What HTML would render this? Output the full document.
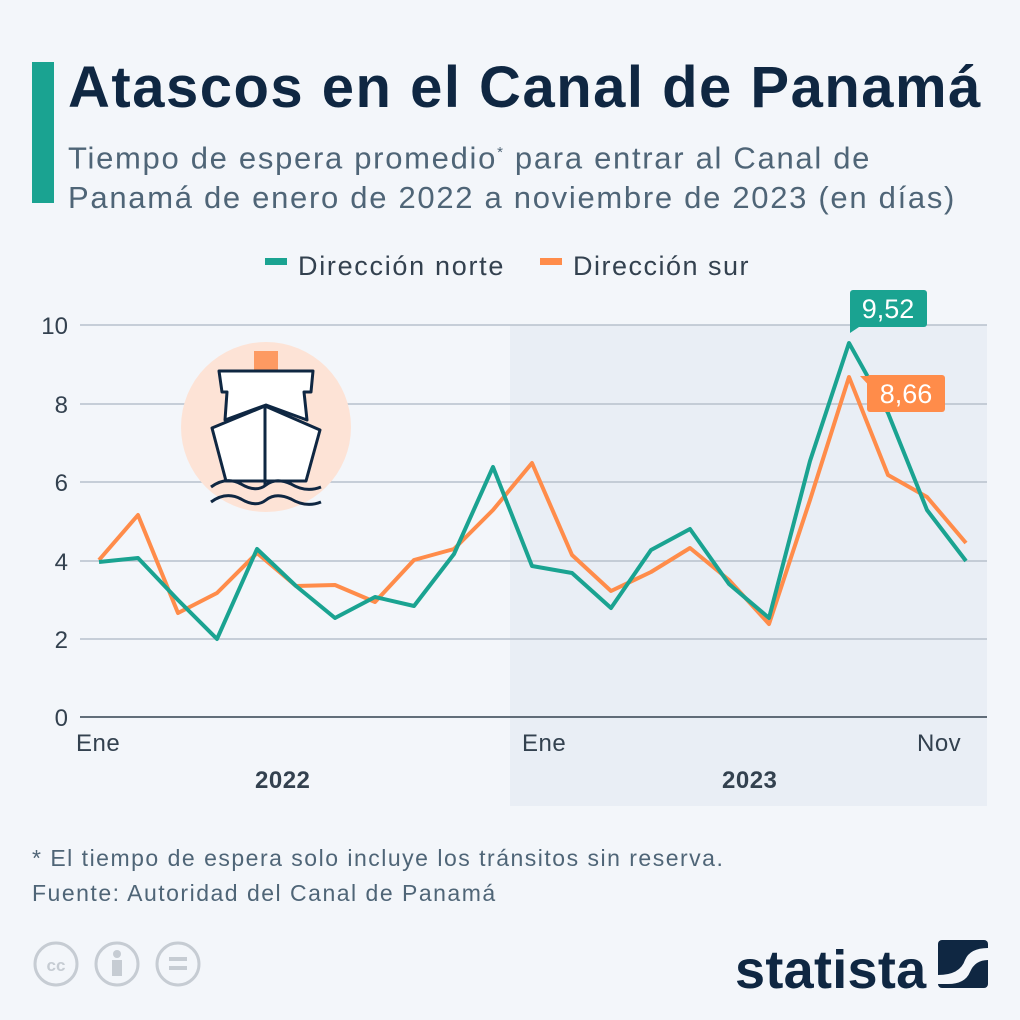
<!DOCTYPE html><html><head><meta charset="utf-8"><style>
body{margin:0;width:1020px;height:1020px;background:#f3f6fa;font-family:"Liberation Sans",sans-serif;overflow:hidden;position:relative}
.t{position:absolute;white-space:nowrap}
</style></head><body>
<div style="position:absolute;left:32px;top:62px;width:22px;height:141px;background:#1aa391"></div>
<div class="t" style="left:68px;top:54px;font-size:58px;font-weight:bold;color:#0f2742;letter-spacing:1.5px">Atascos en el Canal de Panamá</div>
<div class="t" style="left:68px;top:133px;font-size:31px;color:#4f6577;line-height:40px;letter-spacing:1.7px">Tiempo de espera promedio<sup style="font-size:15px">*</sup> para entrar al Canal de<br>Panamá de enero de 2022 a noviembre de 2023 (en días)</div>
<svg width="1020" height="1020" style="position:absolute;left:0;top:0" font-family="Liberation Sans, sans-serif">
<rect x="510" y="325" width="477" height="481" fill="#e9eef5"/>
<g stroke="#b7c0cc" stroke-width="1.5">
<line x1="80" y1="325" x2="987" y2="325"/><line x1="80" y1="404" x2="987" y2="404"/><line x1="80" y1="482" x2="987" y2="482"/><line x1="80" y1="561" x2="987" y2="561"/><line x1="80" y1="639" x2="987" y2="639"/></g>
<line x1="80" y1="717" x2="987" y2="717" stroke="#33414f" stroke-width="1.5"/>
<g font-size="24" fill="#33414f" text-anchor="end"><text x="68" y="334">10</text><text x="68" y="413">8</text><text x="68" y="491">6</text><text x="68" y="570">4</text><text x="68" y="648">2</text><text x="68" y="726">0</text></g>
<g font-size="24" fill="#33414f" letter-spacing="0.5"><text x="76" y="751">Ene</text><text x="522" y="751">Ene</text><text x="917" y="751">Nov</text>
<text x="255" y="788" font-weight="bold">2022</text><text x="722" y="788" font-weight="bold">2023</text></g>
<rect x="265" y="258" width="22" height="7" fill="#1aa391"/><text x="298" y="275" font-size="27" fill="#33414f" letter-spacing="1.7">Dirección norte</text>
<rect x="540" y="258" width="22" height="7" fill="#ff8c4a"/><text x="573" y="275" font-size="27" fill="#33414f" letter-spacing="1.5">Dirección sur</text>
<circle cx="266" cy="427" r="85" fill="#fde3d6"/>
<rect x="254" y="351" width="24" height="20" fill="#fd9a62"/>
<path d="M219 371 H313 L311 392 H304 L307 420 L266 405 L225 420 L227 392 H222 Z" fill="#fff" stroke="#0f2742" stroke-width="3" stroke-linejoin="round"/>
<path d="M212 428 L265 406 L320 430 L306 481 H226 Z" fill="#fff" stroke="#0f2742" stroke-width="3" stroke-linejoin="round"/>
<line x1="265" y1="406" x2="265" y2="485" stroke="#0f2742" stroke-width="3"/>
<path d="M211 487 Q226 476 241 484 Q256 493 266 485 Q276 477 291 484 Q306 493 321 487 M211 502 Q226 491 241 499 Q256 508 266 500 Q276 492 291 499 Q306 508 321 502" fill="none" stroke="#0f2742" stroke-width="3"/>
<polyline fill="none" stroke="#ff8c4a" stroke-width="4" stroke-linejoin="round" points="99,560 138,515 178,613 217,593 257,553 296,586 335,585 375,602 414,560 454,549 493,510 532,463 572,555 611,591 651,572 690,548 729,580 769,624 810,500 849,377 888,475 927,497 966,543"/>
<polyline fill="none" stroke="#1aa391" stroke-width="4" stroke-linejoin="round" points="99,562 138,558 178,600 217,639 257,549 296,586 335,618 375,597 414,606 454,554 493,467 532,566 572,573 611,608 651,550 690,529 729,584 769,618 810,461 849,343 888,413 927,510 966,561"/>
<rect x="850" y="290" width="77" height="37" rx="3" fill="#1aa391"/><path d="M850 320 V333 L862 325 Z" fill="#1aa391"/>
<text x="888" y="318" font-size="27" fill="#fff" text-anchor="middle">9,52</text>
<rect x="867" y="375" width="78" height="37" rx="3" fill="#ff8c4a"/><path d="M860 376 L875 376 L875 392 Z" fill="#ff8c4a"/>
<text x="906" y="403" font-size="27" fill="#fff" text-anchor="middle">8,66</text>
<g fill="none" stroke="#c6ccd3" stroke-width="3"><circle cx="56" cy="964" r="21"/><circle cx="117" cy="964" r="21"/><circle cx="178" cy="964" r="21"/></g>
<text x="56" y="971" font-size="17" font-weight="bold" fill="#c6ccd3" text-anchor="middle">cc</text>
<circle cx="117" cy="954" r="4" fill="#c6ccd3"/><rect x="112" y="960" width="10" height="16" fill="#c6ccd3"/>
<rect x="169" y="957" width="18" height="4" fill="#c6ccd3"/><rect x="169" y="966" width="18" height="4" fill="#c6ccd3"/>
<text x="735" y="988" font-size="54" font-weight="bold" fill="#0f2742" letter-spacing="0.3">statista</text>
<rect x="938" y="940" width="50" height="48" rx="4" fill="#0f2742"/>
<path d="M938 975 Q960 975 965 960 Q970 948 988 948 V960 Q975 960 970 972 Q965 984 948 984 H938 Z" fill="#f3f6fa"/>
</svg>
<div class="t" style="left:32px;top:845px;font-size:23px;color:#4f6577;letter-spacing:1.5px">* El tiempo de espera solo incluye los tránsitos sin reserva.</div>
<div class="t" style="left:32px;top:880px;font-size:23px;color:#4f6577;letter-spacing:1.5px">Fuente: Autoridad del Canal de Panamá</div>
</body></html>
